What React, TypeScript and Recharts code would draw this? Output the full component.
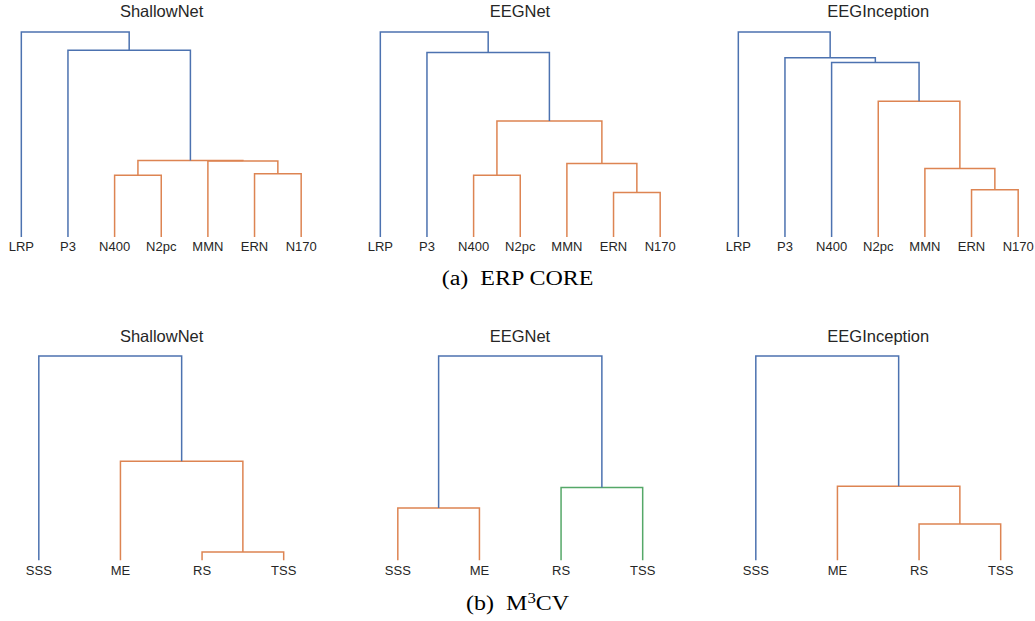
import { LineChart, Line, XAxis, YAxis } from "recharts";

// leaf labels, left to right as drawn
const erpLeaves = ["LRP", "P3", "N400", "N2pc", "MMN", "ERN", "N170"];
const m3cvLeaves = ["SSS", "ME", "RS", "TSS"];

// merges: [left id, right id, distance, colour key]; ids >= leaf count are earlier merges
const shallowErp: [number, number, number, string][] = [
  [2, 3, 0.301, "orange"],
  [5, 6, 0.309, "orange"],
  [4, 8, 0.371, "orange"],
  [7, 9, 0.373, "orange"],
  [1, 10, 0.911, "blue"],
  [0, 11, 1.0, "blue"],
];
const eegnetErp: [number, number, number, string][] = [
  [5, 6, 0.217, "orange"],
  [2, 3, 0.301, "orange"],
  [4, 7, 0.358, "orange"],
  [8, 9, 0.566, "orange"],
  [1, 10, 0.9, "blue"],
  [0, 11, 1.0, "blue"],
];
const inceptionErp: [number, number, number, string][] = [
  [5, 6, 0.231, "orange"],
  [4, 7, 0.334, "orange"],
  [3, 8, 0.662, "orange"],
  [2, 9, 0.851, "blue"],
  [1, 10, 0.875, "blue"],
  [0, 11, 1.0, "blue"],
];
const shallowM3cv: [number, number, number, string][] = [
  [2, 3, 0.041, "orange"],
  [1, 4, 0.485, "orange"],
  [0, 5, 1.0, "blue"],
];
const eegnetM3cv: [number, number, number, string][] = [
  [0, 1, 0.256, "orange"],
  [2, 3, 0.356, "green"],
  [4, 5, 1.0, "blue"],
];
const inceptionM3cv: [number, number, number, string][] = [
  [2, 3, 0.178, "orange"],
  [1, 4, 0.362, "orange"],
  [0, 5, 1.0, "blue"],
];

const COLORS: Record<string, string> = {
  blue: "#4c72b0",
  orange: "#dd8452",
  green: "#55a868",
};

// turn a merge list into U-shaped links (scipy style: leaf i sits at 10*i+5)
const buildLinks = (n: number, merges: [number, number, number, string][]) => {
  const pos: number[] = [];
  const hgt: number[] = [];
  for (let i = 0; i < n; i++) {
    pos.push(10 * i + 5);
    hgt.push(0);
  }
  return merges.map(([a, b, h, c]) => {
    const pts = [
      { x: pos[a], y: hgt[a] },
      { x: pos[a], y: h },
      { x: pos[b], y: h },
      { x: pos[b], y: hgt[b] },
    ];
    pos.push((pos[a] + pos[b]) / 2);
    hgt.push(h);
    return { pts, color: COLORS[c] };
  });
};

const PANEL_W = 326.5;
const TEXT = "#262626";
const SANS = "'Liberation Sans', Arial, sans-serif";
const SERIF = "'Liberation Serif', 'Times New Roman', serif";

interface PanelProps {
  left: number;
  plotTop: number;
  plotH: number;
  title: string;
  titleBaseline: number;
  leaves: string[];
  merges: [number, number, number, string][];
}

const Panel = ({ left, plotTop, plotH, title, titleBaseline, leaves, merges }: PanelProps) => {
  const links = buildLinks(leaves.length, merges);
  const ticks = leaves.map((_, i) => 10 * i + 5);
  return (
    <>
      <div
        style={{
          position: "absolute",
          left,
          width: PANEL_W,
          top: titleBaseline - 14,
          textAlign: "center",
          fontFamily: SANS,
          fontSize: 16.5,
          lineHeight: "16.5px",
          color: TEXT,
          whiteSpace: "nowrap",
        }}
      >
        {title}
      </div>
      <div style={{ position: "absolute", left, top: plotTop - 10 }}>
        <LineChart
          width={PANEL_W}
          height={plotH + 30}
          margin={{ top: 10, right: 0, bottom: 0, left: 0 }}
        >
          <XAxis
            dataKey="x"
            type="number"
            domain={[0, leaves.length * 10]}
            ticks={ticks}
            interval={0}
            tickFormatter={(v: number) => leaves[(v - 5) / 10]}
            axisLine={false}
            tickLine={false}
            tickSize={0}
            tickMargin={5}
            height={20}
            tick={{ fontSize: 13, fill: TEXT, fontFamily: SANS }}
          />
          <YAxis type="number" domain={[0, 1]} hide />
          {links.map((l, i) => (
            <Line
              key={i}
              data={l.pts}
              dataKey="y"
              type="linear"
              stroke={l.color}
              strokeWidth={1.5}
              dot={false}
              activeDot={false}
              legendType="none"
              isAnimationActive={false}
            />
          ))}
        </LineChart>
      </div>
    </>
  );
};

const Caption = ({ baseline, children }: { baseline: number; children: React.ReactNode }) => (
  <div
    style={{
      position: "absolute",
      left: 0,
      width: 1035,
      top: baseline - 18.4,
      textAlign: "center",
      fontFamily: SERIF,
      fontSize: 20,
      lineHeight: "20px",
      color: "#000",
      transform: "scaleX(1.2)",
      transformOrigin: "517px 0",
      whiteSpace: "nowrap",
    }}
  >
    {children}
  </div>
);

const lefts = [-1.6, 356.7, 715];

export default function App() {
  return (
    <div
      style={{
        position: "absolute",
        left: 0,
        top: 0,
        width: 1035,
        height: 621,
        overflow: "hidden",
        background: "#fff",
      }}
    >
      <Panel left={lefts[0]} plotTop={31.7} plotH={205} title="ShallowNet" titleBaseline={16.8} leaves={erpLeaves} merges={shallowErp} />
      <Panel left={lefts[1]} plotTop={31.7} plotH={205} title="EEGNet" titleBaseline={16.8} leaves={erpLeaves} merges={eegnetErp} />
      <Panel left={lefts[2]} plotTop={31.7} plotH={205} title="EEGInception" titleBaseline={16.8} leaves={erpLeaves} merges={inceptionErp} />
      <Caption baseline={286}>(a)&nbsp; ERP CORE</Caption>

      <Panel left={lefts[0]} plotTop={355.7} plotH={204.3} title="ShallowNet" titleBaseline={341.5} leaves={m3cvLeaves} merges={shallowM3cv} />
      <Panel left={lefts[1]} plotTop={355.7} plotH={204.3} title="EEGNet" titleBaseline={341.5} leaves={m3cvLeaves} merges={eegnetM3cv} />
      <Panel left={lefts[2]} plotTop={355.7} plotH={204.3} title="EEGInception" titleBaseline={341.5} leaves={m3cvLeaves} merges={inceptionM3cv} />
      <Caption baseline={611}>
        (b)&nbsp; M<sup style={{ fontSize: 14, lineHeight: 0, verticalAlign: "7px" }}>3</sup>CV
      </Caption>
    </div>
  );
}
